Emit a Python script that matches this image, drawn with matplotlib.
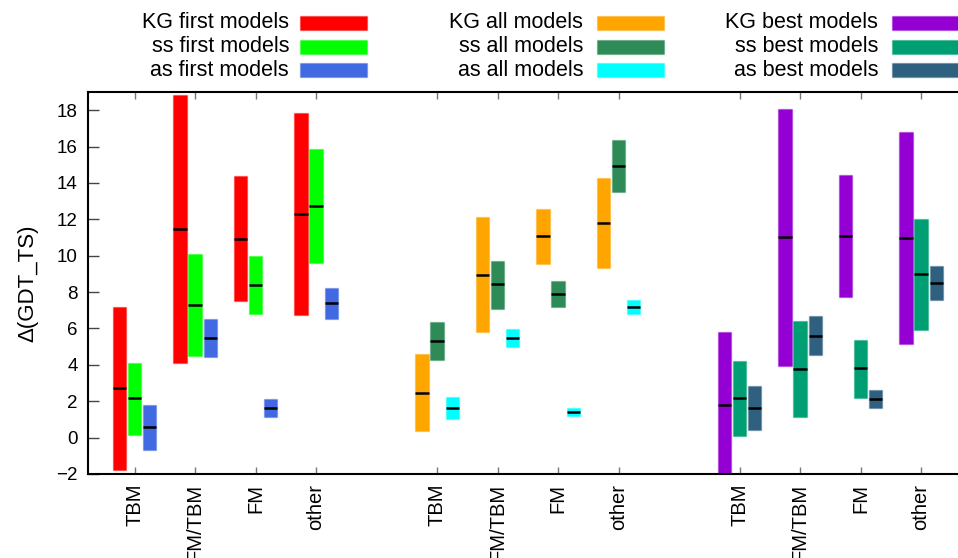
import numpy as np
import matplotlib
matplotlib.use("Agg")
import matplotlib.pyplot as plt
from matplotlib.patches import Rectangle
from matplotlib.colors import to_rgba

plt.rcParams["font.family"] = ["Liberation Sans", "DejaVu Sans"]

categories = ["TBM", "FM/TBM", "FM", "other"]
groups = ["first", "all", "best"]
methods = ["KG", "ss", "as"]

# colours per group, per method (KG, ss, as)
colors = {
    "first": ["#ff0000", "#00ff00", "#4169e1"],
    "all": ["#ffa500", "#2e8b57", "#00ffff"],
    "best": ["#9400d3", "#009e73", "#306080"],
}

# (low, high, median) per category, for KG / ss / as
lows = {
    "first": [[-1.76, 4.09, 7.49, 6.72], [0.13, 4.48, 6.77, 9.60], [-0.68, 4.42, 1.16, 6.53]],
    "all": [[0.35, 5.78, 9.54, 9.30], [4.24, 7.08, 7.16, 13.49], [1.03, 4.99, 1.19, 6.79]],
    "best": [[-2.5, 3.96, 7.72, 5.16], [0.11, 1.12, 2.20, 5.93], [0.40, 4.53, 1.61, 7.56]],
}
highs = {
    "first": [[7.17, 18.81, 14.37, 17.85], [4.11, 10.11, 9.96, 15.87], [1.82, 6.53, 2.11, 8.24]],
    "all": [[4.61, 12.11, 12.59, 14.29], [6.37, 9.72, 8.62, 16.35], [2.26, 5.96, 1.63, 7.58]],
    "best": [[5.78, 18.07, 14.42, 16.81], [4.20, 6.42, 5.39, 12.04], [2.86, 6.66, 2.64, 9.43]],
}
medians = {
    "first": [[2.72, 11.47, 10.92, 12.28], [2.17, 7.30, 8.39, 12.72], [0.57, 5.49, 1.65, 7.39]],
    "all": [[2.48, 8.95, 11.08, 11.80], [5.30, 8.44, 7.89, 14.92], [1.65, 5.49, 1.41, 7.19]],
    "best": [[1.78, 11.03, 11.08, 10.97], [2.17, 3.76, 3.82, 8.99], [1.65, 5.60, 2.15, 8.50]],
}

W, H = 958, 558
fig = plt.figure(figsize=(W / 100, H / 100), dpi=100)
ax_left, ax_bottom, ax_top = 88 / W, (H - 474) / H, (H - 92) / H
ax = fig.add_axes([ax_left, ax_bottom, 1.0 - ax_left, ax_top - ax_bottom])

bar_w = 0.22
offsets = [-0.25, 0.0, 0.25]
tick_pos = []
tick_lab = []
for gi, g in enumerate(groups):
    base = np.arange(len(categories)) + 1 + gi * 5
    tick_pos.extend(base)
    tick_lab.extend(categories)
    for mi in range(len(methods)):
        lo = np.array(lows[g][mi])
        hi = np.array(highs[g][mi])
        med = np.array(medians[g][mi])
        x = base + offsets[mi]
        c = colors[g][mi]
        ax.bar(x, hi - lo, bottom=lo, width=bar_w, color=c,
               edgecolor=to_rgba(c, 0.35), linewidth=1.0, zorder=2)
        ax.hlines(med, x - bar_w / 2, x + bar_w / 2, color="black",
                  linewidth=1.8, zorder=3)

ax.set_xlim(0.231, 14.61)
ax.set_ylim(-2, 19)
ax.set_yticks(np.arange(-2, 19, 2))
ax.set_xticks(tick_pos)
ax.set_xticklabels(tick_lab, rotation=90, ha="center", va="top")

for s in ["left", "top", "bottom"]:
    ax.spines[s].set_linewidth(1.5)
ax.spines["right"].set_visible(False)
ax.tick_params(axis="y", direction="in", length=8, width=1.0, color="#444444",
               labelsize=13.5, pad=7.5)
ax.tick_params(axis="x", direction="in", length=5, width=1.0, color="#777777",
               labelsize=14.5, pad=7, top=True)

fig.text(28 / W, 1 - 283 / H, "Δ(GDT_TS)", rotation=90, ha="center",
         va="center", fontsize=16)

# legend: three columns of text + colour sample
text_right = [289, 583, 878]
box_left = [300, 597, 892]
row_y = [23, 47, 70]
for gi, g in enumerate(groups):
    for mi, m in enumerate(methods):
        yc = 1 - row_y[mi] / H
        fig.text(text_right[gi] / W, yc, f"{m} {g} models", ha="right",
                 va="center", fontsize=15.5)
        c = colors[g][mi]
        fig.add_artist(Rectangle((box_left[gi] / W, yc - 6.5 / H), 67 / W, 13 / H,
                                 transform=fig.transFigure, facecolor=c,
                                 edgecolor=to_rgba(c, 0.35), linewidth=1.0))

fig.savefig("out.png", dpi=100)
